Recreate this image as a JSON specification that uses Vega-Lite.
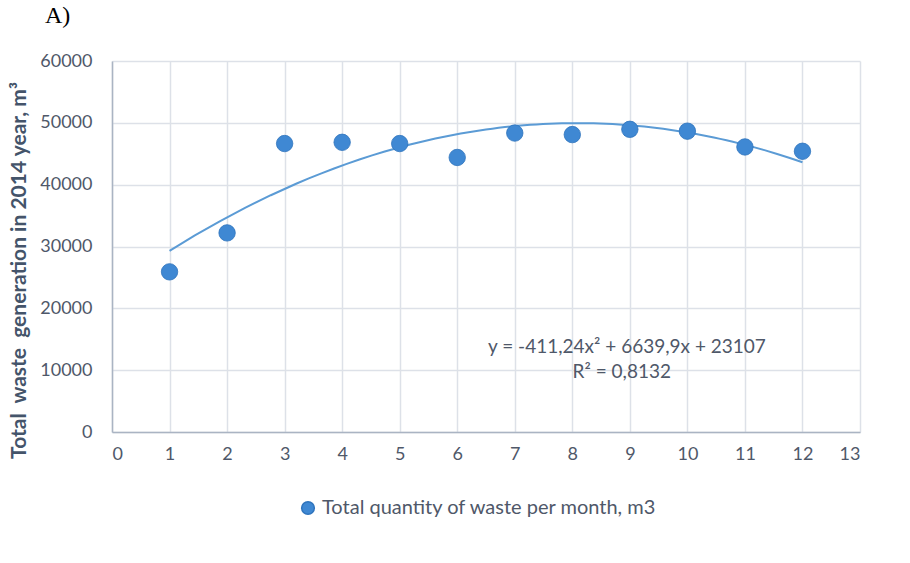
{
  "$schema": "https://vega.github.io/schema/vega-lite/v6.json",
  "autosize": "none",
  "width": 748,
  "height": 371,
  "padding": {"left": 112, "top": 61, "right": 50, "bottom": 131},
  "background": "white",
  "config": {
    "font": "Lato",
    "view": {"stroke": null},
    "axis": {"labelFont": "Lato", "labelFontSize": 18, "labelColor": "#4f5869", "gridColor": "#dde1e8", "gridWidth": 1.5, "domainColor": "#aab4c3", "domainWidth": 1.5, "ticks": false}
  },
  "title": {"text": "A)", "font": "Liberation Serif", "fontSize": 24, "fontWeight": "normal", "color": "#000000", "anchor": "start", "frame": "group", "dx": -67, "offset": 24},
  "data": {
    "values": [
      {"month": 1, "waste": 25900, "series": "Total quantity of waste per month, m3"},
      {"month": 2, "waste": 32200, "series": "Total quantity of waste per month, m3"},
      {"month": 3, "waste": 46650, "series": "Total quantity of waste per month, m3"},
      {"month": 4, "waste": 46850, "series": "Total quantity of waste per month, m3"},
      {"month": 5, "waste": 46650, "series": "Total quantity of waste per month, m3"},
      {"month": 6, "waste": 44400, "series": "Total quantity of waste per month, m3"},
      {"month": 7, "waste": 48350, "series": "Total quantity of waste per month, m3"},
      {"month": 8, "waste": 48100, "series": "Total quantity of waste per month, m3"},
      {"month": 9, "waste": 48950, "series": "Total quantity of waste per month, m3"},
      {"month": 10, "waste": 48650, "series": "Total quantity of waste per month, m3"},
      {"month": 11, "waste": 46100, "series": "Total quantity of waste per month, m3"},
      {"month": 12, "waste": 45400, "series": "Total quantity of waste per month, m3"}
    ]
  },
  "encoding": {
    "x": {"field": "month", "type": "quantitative", "scale": {"domain": [0, 13], "nice": false, "zero": false}, "axis": {"values": [0,1,2,3,4,5,6,7,8,9,10,11,12,13], "title": null, "labelPadding": 13, "grid": true}},
    "y": {"field": "waste", "type": "quantitative", "scale": {"domain": [0, 60000], "nice": false}, "axis": {"values": [0,10000,20000,30000,40000,50000,60000], "format": "d", "title": "Total\u00a0 waste\u00a0 generation in 2014 year, m³", "titleFont": "Lato", "titleFontSize": 21, "titleFontWeight": "bold", "titleColor": "#44546a", "titleX": -83, "titleY": 209, "labelPadding": 20, "grid": true}}
  },
  "layer": [
    {
      "transform": [{"regression": "waste", "on": "month", "method": "poly", "order": 2, "extent": [1, 12]}],
      "mark": {"type": "line", "color": "#5b9bd5", "strokeWidth": 2},
      "encoding": {}
    },
    {
      "mark": {"type": "circle", "size": 270, "opacity": 1, "color": "#3f88d3", "stroke": "#2f74bd", "strokeWidth": 0.8},
      "encoding": {
        "color": {"field": "series", "type": "nominal", "scale": {"range": ["#3f88d3"]}, "legend": {"title": null, "orient": "none", "legendX": 186, "legendY": 437, "symbolType": "circle", "symbolSize": 160, "labelFont": "Lato", "labelFontSize": 20, "labelColor": "#4f5869", "labelOffset": 4, "labelLimit": 0}}
      }
    },
    {
      "data": {"values": [
        {"tx": 8.95, "ty": 13700, "label": "y = -411,24x² + 6639,9x + 23107"},
        {"tx": 8.86, "ty": 9700, "label": "R² = 0,8132"}
      ]},
      "mark": {"type": "text", "font": "Lato", "fontSize": 19, "color": "#4f5869", "align": "center", "baseline": "middle"},
      "encoding": {
        "x": {"field": "tx", "type": "quantitative"},
        "y": {"field": "ty", "type": "quantitative"},
        "text": {"field": "label"}
      }
    }
  ]
}
